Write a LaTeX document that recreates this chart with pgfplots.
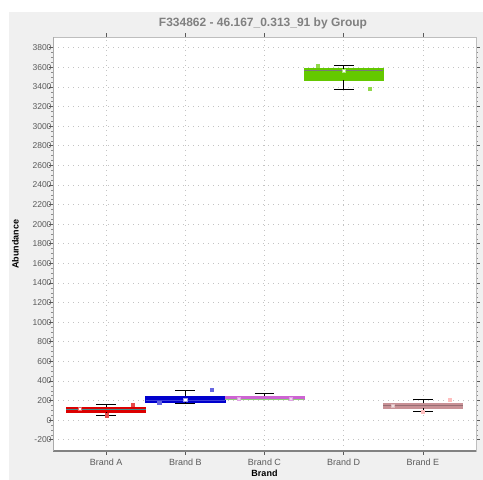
\documentclass[border=0pt]{standalone}
\usepackage{fontspec}
\setmainfont{Liberation Sans}
\usepackage{pgfplots}
\pgfplotsset{compat=1.18}
\definecolor{bgGray}{RGB}{240,240,240}
\definecolor{titleGray}{RGB}{128,128,128}
\definecolor{tickGray}{RGB}{90,90,90}
\definecolor{gridGray}{RGB}{195,195,195}
\definecolor{frameGray}{RGB}{190,190,190}
\definecolor{axisDark}{RGB}{130,130,130}
\definecolor{cA}{RGB}{220,0,0}
\definecolor{cAm}{RGB}{70,140,140}
\definecolor{cB}{RGB}{0,0,205}
\definecolor{cC}{RGB}{205,100,210}
\definecolor{cCm}{RGB}{140,210,120}
\definecolor{cD}{RGB}{100,200,0}
\definecolor{cDm}{RGB}{120,120,120}
\definecolor{cE}{RGB}{200,145,150}
\definecolor{cEm}{RGB}{150,110,115}
\pgfplotsset{
  boxfill/.style={line width=0.4pt, forget plot},
  whisk/.style={black, line width=0.7pt, forget plot},
  med/.style={line width=1pt, forget plot},
  pts/.style={only marks, mark=square*, mark size=1.6pt, forget plot},
}
\begin{document}
\begin{tikzpicture}
\useasboundingbox (0,0) rectangle (483pt,480pt);
\fill[white] (0,0) rectangle (483pt,480pt);
\fill[bgGray] (9pt,0) rectangle (483pt,468pt);
\node[font=\fontsize{12}{14}\selectfont\bfseries, text=titleGray] at (263pt,457pt) {F334862 - 46.167\_0.313\_91 by Group};
\begin{axis}[
  at={(53pt,29pt)}, anchor=south west,
  scale only axis, width=423pt, height=414pt,
  xmin=-0.67, xmax=4.67, ymin=-315, ymax=3910,
  axis background/.style={fill=white},
  axis line style={frameGray},
  xtick={0,1,2,3,4},
  xticklabels={Brand A,Brand B,Brand C,Brand D,Brand E},
  ytick={-200,0,200,400,600,800,1000,1200,1400,1600,1800,2000,2200,2400,2600,2800,3000,3200,3400,3600,3800},
  minor y tick num=3,
  tick align=outside,
  major tick length=4pt, minor tick length=2pt,
  tick style={tickGray, line width=0.6pt},
  minor tick style={tickGray!70, line width=0.4pt},
  x tick label style={font=\fontsize{9}{10}\selectfont, text=tickGray},
  y tick label style={font=\fontsize{8.5}{9}\selectfont, text=tickGray, xshift=6pt},
  /pgf/number format/assume math mode=true,
  /pgf/number format/1000 sep={},
  grid=major,
  major grid style={gridGray, dash pattern=on 1pt off 4pt, line width=0.6pt},
  xlabel={\bfseries Brand}, ylabel={\bfseries Abundance},
  xlabel style={font=\fontsize{9}{10}\selectfont, yshift=2pt},
  ylabel style={font=\fontsize{9}{10}\selectfont, at={(axis description cs:-0.073,0.5)}, anchor=south, rotate=0},
  clip=false,
]
% Brand A
\addplot[boxfill, draw=cA, fill=cA] coordinates {(-0.5,82) (0.5,82) (0.5,135) (-0.5,135)} -- cycle;
\addplot[med, cAm] coordinates {(-0.5,113) (0.5,113)};
\addplot[whisk] coordinates {(0,135) (0,160)};
\addplot[whisk] coordinates {(0,82) (0,51)};
\addplot[whisk] coordinates {(-0.125,160) (0.125,160)};
\addplot[whisk] coordinates {(-0.125,51) (0.125,51)};
\addplot[pts, mark options={draw=cA!60, fill=white}] coordinates {(-0.33,113)};
\addplot[pts, mark options={draw=cA!70, fill=cA!70}] coordinates {(0.34,160) (0.01,51)};
% Brand B
\addplot[boxfill, draw=cB, fill=cB] coordinates {(0.5,187) (1.5,187) (1.5,246) (0.5,246)} -- cycle;
\addplot[med, cB!75!white] coordinates {(0.5,205) (1.5,205)};
\addplot[whisk] coordinates {(1,246) (1,305)};
\addplot[whisk] coordinates {(1,187) (1,172)};
\addplot[whisk] coordinates {(0.875,305) (1.125,305)};
\addplot[whisk] coordinates {(0.875,172) (1.125,172)};
\addplot[pts, mark options={draw=cB!60, fill=cB!60}] coordinates {(0.67,174) (1.33,307)};
\addplot[pts, mark options={draw=cB!40, fill=white}] coordinates {(1.0,205)};
% Brand C
\addplot[boxfill, draw=cC, fill=cC] coordinates {(1.5,218) (2.5,218) (2.5,246) (1.5,246)} -- cycle;
\addplot[med, cCm] coordinates {(1.5,214) (2.5,214)};
\addplot[whisk] coordinates {(2,246) (2,272)};
\addplot[whisk] coordinates {(1.875,272) (2.125,272)};
\addplot[pts, mark options={draw=cC!60, fill=cC!30}] coordinates {(1.67,220) (2.33,220)};
% Brand D
\addplot[boxfill, draw=cD, fill=cD] coordinates {(2.5,3472) (3.5,3472) (3.5,3588) (2.5,3588)} -- cycle;
\addplot[med, cDm] coordinates {(2.5,3565) (3.5,3565)};
\addplot[whisk] coordinates {(3,3588) (3,3618)};
\addplot[whisk] coordinates {(3,3472) (3,3378)};
\addplot[whisk] coordinates {(2.875,3618) (3.125,3618)};
\addplot[whisk] coordinates {(2.875,3378) (3.125,3378)};
\addplot[pts, mark options={draw=cD!70, fill=cD!70}] coordinates {(2.67,3618) (3.33,3380)};
\addplot[pts, mark options={draw=cD!50, fill=white}] coordinates {(3.0,3564)};
% Brand E
\addplot[boxfill, draw=cE, fill=cE] coordinates {(3.5,121) (4.5,121) (4.5,171) (3.5,171)} -- cycle;
\addplot[med, cEm] coordinates {(3.5,148) (4.5,148)};
\addplot[whisk] coordinates {(4,171) (4,210)};
\addplot[whisk] coordinates {(4,121) (4,87)};
\addplot[whisk] coordinates {(3.875,210) (4.125,210)};
\addplot[whisk] coordinates {(3.875,87) (4.125,87)};
\addplot[pts, mark options={draw=pink, fill=pink}] coordinates {(4.34,210) (4.0,87)};
\addplot[pts, mark options={draw=cE!60, fill=cE!30}] coordinates {(3.62,148)};
% axis emphasis
\draw[axisDark, line width=1.6pt] (rel axis cs:0,0) -- (rel axis cs:1,0);
\draw[frameGray!70!gray, line width=1pt] (rel axis cs:0,0) -- (rel axis cs:0,1);
\end{axis}
\end{tikzpicture}
\end{document}
